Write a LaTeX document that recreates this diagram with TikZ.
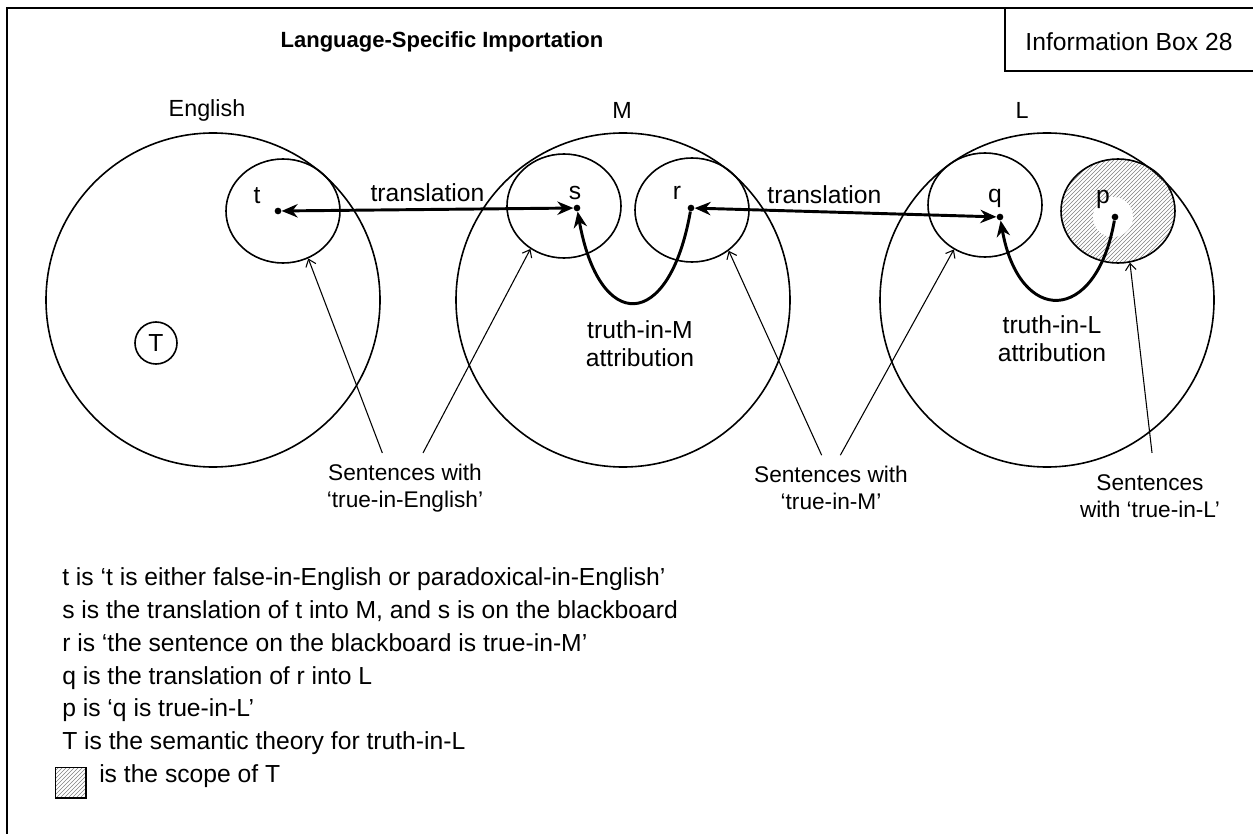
\documentclass[tikz,border=0pt]{standalone}
\usepackage{fontspec}
\setmainfont{Liberation Sans}
\usetikzlibrary{arrows.meta,positioning,calc,shapes.geometric,patterns}

\tikzset{
  txt/.style={font=\fontsize{18.5}{21}\selectfont, inner sep=0pt},
  small/.style={font=\fontsize{17}{20.3}\selectfont, inner sep=0pt},
  bigset/.style={circle, draw, line width=1.2pt, minimum size=250.5pt, inner sep=0pt},
  subset/.style={ellipse, draw, line width=1.2pt, minimum width=85.5pt, minimum height=78pt, inner sep=0pt},
  elem/.style={circle, fill=black, inner sep=0pt, minimum size=5pt},
  transarrow/.style={{Stealth[length=12pt,width=10pt]}-{Stealth[length=12pt,width=10pt]}, line width=2.2pt},
  attrarrow/.style={-{Stealth[length=12pt,width=10pt]}, line width=2.2pt},
  pointer/.style={-{Straight Barb[length=5pt,width=8pt]}, line width=0.8pt},
  hatched/.style={pattern=north east lines, pattern color=gray},
}

\begin{document}
\begin{tikzpicture}[x=0.75pt, y=0.75pt, >=Stealth]
  \useasboundingbox (0,0) rectangle (1253,-834);
  % frame and box number
  \draw[line width=1.3pt] (7,-834) -- (7,-8) -- (1253,-8);
  \draw[line width=1.3pt] (1005,-8) -- (1005,-71) -- (1253,-71);
  \node[txt, font=\fontsize{16.5}{21}\selectfont\bfseries] (title) at (442,-42) {Language-Specific Importation};
  \node[txt] (boxno) at (1129,-42) {Information Box 28};

  % languages
  \node[txt, font=\fontsize{17.5}{21}\selectfont] (english) at (207,-110) {English};
  \node[txt, font=\fontsize{17.5}{21}\selectfont] (mlang) at (622,-110) {M};
  \node[txt, font=\fontsize{17.5}{21}\selectfont] (llang) at (1022,-110) {L};
  \node[bigset] (eset) at (213,-300) {};
  \node[bigset] (mset) at (623,-300) {};
  \node[bigset] (lset) at (1047,-300) {};

  % sets of true sentences
  \node[subset] (tset) at (283,-211) {};
  \node[subset] (sset) at (564,-206) {};
  \node[subset] (rset) at (692,-210) {};
  \node[subset] (qset) at (985,-205) {};
  \node[subset, hatched] (pset) at (1118,-211) {};
  \fill[white] (1113,-217) circle (20);

  % sentences
  \node[elem] (tdot) at (278,-211) {};
  \node[elem] (sdot) at (577,-208) {};
  \node[elem] (rdot) at (691,-208) {};
  \node[elem] (qdot) at (1000,-217) {};
  \node[elem] (pdot) at (1115,-217) {};
  \node[txt] (tlbl) at (257,-196) {t};
  \node[txt] (slbl) at (575,-193) {s};
  \node[txt] (rlbl) at (677,-193) {r};
  \node[txt] (qlbl) at (995,-198) {q};
  \node[txt] (plbl) at (1103,-199) {p};
  \node[circle, draw, line width=1.2pt, minimum size=31.5pt, txt] (theory) at (156,-343) {T};

  % translation and attribution
  \draw[transarrow] (tdot) -- (sdot) node[midway, above=5pt, txt] (trans1) {translation};
  \draw[transarrow] (rdot) -- (qdot) node[pos=0.43, above=5pt, txt] (trans2) {translation};
  \draw[attrarrow] (rdot) to[out=-100, in=-80, looseness=2.8] (sdot);
  \draw[attrarrow] (pdot) to[out=-100, in=-80, looseness=2.4] (qdot);
  \node[txt, align=center] (mattr) at (640,-344) {truth-in-M\\attribution};
  \node[txt, align=center] (lattr) at (1052,-339) {truth-in-L\\attribution};

  % pointers to the sets
  \node[small, align=center, inner sep=8pt] (sentE) at (405,-488) {Sentences with\\‘true-in-English’};
  \node[small, align=center, inner sep=8pt] (sentM) at (831,-488) {Sentences with\\‘true-in-M’};
  \node[small, align=center, inner sep=8pt] (sentL) at (1150,-496) {Sentences\\with ‘true-in-L’};
  \draw[pointer] ([xshift=-17pt]sentE.north) -- (tset.-62);
  \draw[pointer] ([xshift=13.5pt]sentE.north) -- (sset.-128);
  \draw[pointer] ([xshift=-7pt]sentM.north) -- (rset.-48);
  \draw[pointer] ([xshift=7pt]sentM.north) -- (qset.-125);
  \draw[pointer] ([xshift=1.5pt, yshift=8pt]sentL.north) -- (pset.-77);

  % notes
  \node[txt, anchor=base west] (n1) at (62,-585) {t is ‘t is either false-in-English or paradoxical-in-English’};
  \node[txt, anchor=base west] (n2) at (62,-618) {s is the translation of t into M, and s is on the blackboard};
  \node[txt, anchor=base west] (n3) at (62,-651) {r is ‘the sentence on the blackboard is true-in-M’};
  \node[txt, anchor=base west] (n4) at (62,-684) {q is the translation of r into L};
  \node[txt, anchor=base west] (n5) at (62,-716) {p is ‘q is true-in-L’};
  \node[txt, anchor=base west] (n6) at (62,-749) {T is the semantic theory for truth-in-L};
  \node[draw, line width=1pt, hatched, minimum size=23pt, inner sep=0pt] (key) at (70.5,-782.5) {};
  \node[txt, anchor=base west] (n7) at (99,-782) {is the scope of T};
\end{tikzpicture}
\end{document}
